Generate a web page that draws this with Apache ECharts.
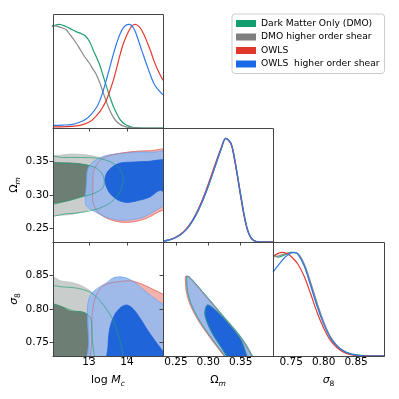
<!DOCTYPE html>
<html>
<head>
<meta charset="utf-8">
<script src="https://cdn.jsdelivr.net/npm/echarts@6/dist/echarts.min.js"></script>
<style>
  html, body { margin: 0; padding: 0; background: #fff; }
  #main { width: 399px; height: 399px; }
</style>
</head>
<body>
<div id="main"></div>
<script>
// series names (legend)
const names = ["Dark Matter Only (DMO)", "DMO higher order shear", "OWLS", "OWLS  higher order shear"];

// tick labels
const logMcTicks = [13, 14];
const omTicks = [0.25, 0.30, 0.35];
const s8Ticks = [0.75, 0.80, 0.85];

// 1D marginal: log Mc
const mcPdfDmo = [[12.02,0.977],[12.1,0.99],[12.21,1.0],[12.39,0.98],[12.55,0.95],[12.66,0.93],[12.8,0.91],[12.9,0.89],[13.02,0.83],[13.1,0.76],[13.2,0.68],[13.29,0.6],[13.375,0.5],[13.46,0.4],[13.55,0.3],[13.64,0.21],[13.73,0.14],[13.82,0.08],[13.91,0.045],[14.0,0.026],[14.09,0.012],[14.2,0.004],[14.4,0],[14.95,0]];
const mcPdfDmoHos = [[12.02,0.99],[12.17,0.98],[12.3,0.965],[12.39,0.95],[12.5,0.9],[12.66,0.82],[12.78,0.75],[12.88,0.69],[12.95,0.655],[13.02,0.62],[13.1,0.57],[13.2,0.51],[13.29,0.43],[13.375,0.34],[13.46,0.25],[13.55,0.17],[13.64,0.105],[13.73,0.06],[13.82,0.035],[13.91,0.018],[14.0,0.008],[14.1,0.003],[14.3,0],[14.95,0]];
const mcPdfOwls = [[12.05,0.01],[12.4,0.013],[12.66,0.02],[12.85,0.035],[13.02,0.06],[13.15,0.1],[13.29,0.16],[13.375,0.21],[13.46,0.27],[13.55,0.36],[13.64,0.46],[13.73,0.58],[13.82,0.71],[13.91,0.82],[14.0,0.9],[14.07,0.95],[14.13,0.985],[14.22,1.0],[14.3,0.985],[14.36,0.96],[14.45,0.9],[14.54,0.82],[14.63,0.735],[14.71,0.65],[14.8,0.57],[14.95,0.46]];
const mcPdfOwlsHos = [[12.05,0.026],[12.3,0.028],[12.57,0.035],[12.75,0.055],[12.93,0.09],[13.05,0.13],[13.2,0.2],[13.29,0.27],[13.375,0.36],[13.46,0.47],[13.55,0.59],[13.64,0.71],[13.73,0.82],[13.82,0.91],[13.91,0.97],[14.0,0.997],[14.07,1.0],[14.18,0.96],[14.27,0.88],[14.36,0.78],[14.45,0.685],[14.54,0.59],[14.63,0.5],[14.71,0.43],[14.8,0.38],[14.95,0.32]];

// 1D marginal: Omega_m
const omPdfDmo = [[0.23,0.008],[0.24,0.02],[0.25,0.045],[0.26,0.085],[0.27,0.15],[0.28,0.25],[0.29,0.38],[0.30,0.54],[0.31,0.72],[0.32,0.9],[0.327,1.0],[0.335,0.95],[0.34,0.82],[0.345,0.64],[0.35,0.45],[0.355,0.27],[0.36,0.13],[0.365,0.05],[0.37,0.015],[0.375,0.004],[0.38,0],[0.40,0]];
const omPdfDmoHos = [[0.23,0.008],[0.24,0.02],[0.25,0.044],[0.26,0.084],[0.27,0.148],[0.28,0.248],[0.29,0.378],[0.30,0.538],[0.31,0.718],[0.32,0.9],[0.327,1.0],[0.335,0.955],[0.34,0.83],[0.345,0.65],[0.35,0.46],[0.355,0.28],[0.36,0.135],[0.365,0.052],[0.37,0.016],[0.375,0.004],[0.38,0],[0.40,0]];
const omPdfOwls = [[0.23,0.009],[0.24,0.022],[0.25,0.048],[0.26,0.09],[0.27,0.158],[0.28,0.26],[0.29,0.395],[0.30,0.56],[0.31,0.74],[0.32,0.91],[0.327,1.0],[0.335,0.945],[0.34,0.81],[0.345,0.63],[0.35,0.44],[0.355,0.26],[0.36,0.125],[0.365,0.048],[0.37,0.014],[0.375,0.004],[0.38,0],[0.40,0]];
const omPdfOwlsHos = [[0.23,0.008],[0.24,0.02],[0.25,0.045],[0.26,0.086],[0.27,0.152],[0.28,0.252],[0.29,0.382],[0.30,0.542],[0.31,0.722],[0.32,0.9],[0.327,1.0],[0.335,0.952],[0.34,0.825],[0.345,0.645],[0.35,0.455],[0.355,0.275],[0.36,0.132],[0.365,0.05],[0.37,0.015],[0.375,0.004],[0.38,0],[0.40,0]];

// 1D marginal: sigma_8
const s8PdfDmo = [[0.722,0.98],[0.73,0.955],[0.74,0.975],[0.75,1.0],[0.76,0.985],[0.77,0.875],[0.78,0.69],[0.79,0.49],[0.80,0.32],[0.81,0.185],[0.82,0.10],[0.83,0.052],[0.84,0.025],[0.85,0.01],[0.86,0.003],[0.87,0],[0.893,0]];
const s8PdfDmoHos = [[0.722,0.955],[0.73,0.965],[0.74,0.985],[0.75,1.0],[0.76,0.99],[0.77,0.89],[0.78,0.71],[0.79,0.51],[0.80,0.33],[0.81,0.19],[0.82,0.105],[0.83,0.05],[0.84,0.02],[0.85,0.007],[0.86,0.002],[0.87,0],[0.893,0]];
const s8PdfOwls = [[0.722,0.96],[0.73,0.99],[0.737,1.0],[0.745,0.985],[0.75,0.96],[0.76,0.89],[0.77,0.77],[0.78,0.60],[0.79,0.42],[0.80,0.27],[0.81,0.155],[0.82,0.085],[0.83,0.04],[0.84,0.016],[0.85,0.005],[0.86,0.001],[0.87,0],[0.893,0]];
const s8PdfOwlsHos = [[0.722,0.81],[0.73,0.875],[0.74,0.95],[0.75,0.995],[0.755,1.0],[0.76,0.985],[0.77,0.87],[0.78,0.68],[0.79,0.48],[0.80,0.31],[0.81,0.18],[0.82,0.10],[0.83,0.05],[0.84,0.022],[0.85,0.008],[0.86,0.002],[0.87,0],[0.893,0]];

// 2D contours: log Mc vs Omega_m (95% outer, 68% inner)
const mcOmDmoOuter = [[11.9,0.356],[12.3,0.356],[12.8,0.356],[13.2,0.355],[13.55,0.35],[13.8,0.34],[13.9,0.325],[13.82,0.305],[13.6,0.29],[13.3,0.281],[12.9,0.275],[12.4,0.272],[11.9,0.271]];
const mcOmDmoInner = [[11.9,0.345],[12.4,0.347],[12.9,0.345],[13.2,0.34],[13.38,0.328],[13.38,0.312],[13.15,0.303],[12.8,0.297],[12.4,0.291],[11.9,0.288]];
const mcOmHosOuter = [[11.9,0.357],[12.2,0.359],[12.5,0.361],[12.9,0.360],[13.2,0.357],[13.5,0.353],[13.75,0.345],[13.85,0.333],[13.8,0.315],[13.5,0.295],[13.2,0.283],[12.9,0.276],[12.5,0.271],[12.2,0.270],[11.9,0.270]];
const mcOmHosInner = [[11.9,0.346],[12.3,0.348],[12.7,0.347],[13.0,0.344],[13.2,0.338],[13.3,0.325],[13.25,0.31],[13.0,0.302],[12.7,0.296],[12.4,0.291],[12.1,0.288],[11.9,0.288]];
const mcOmOwlsOuter = [[13.12,0.335],[13.1,0.31],[13.1,0.29],[13.2,0.277],[13.45,0.266],[13.8,0.26],[14.15,0.26],[14.5,0.265],[14.8,0.274],[15.1,0.284],[15.1,0.366],[14.6,0.366],[14.2,0.365],[13.8,0.362],[13.45,0.357],[13.25,0.349]];
const mcOmOwlsInner = [[13.5,0.322],[13.56,0.335],[13.75,0.344],[14.05,0.349],[14.5,0.35],[15.1,0.35],[15.1,0.297],[14.6,0.293],[14.3,0.29],[14.05,0.288],[13.8,0.292],[13.58,0.305]];
const mcOmOwlsHosOuter = [[12.95,0.335],[12.93,0.315],[12.9,0.295],[12.93,0.284],[13.1,0.277],[13.4,0.268],[13.73,0.263],[14.1,0.263],[14.43,0.267],[14.7,0.275],[14.87,0.281],[15.1,0.29],[15.1,0.364],[14.7,0.364],[14.2,0.364],[13.8,0.362],[13.45,0.359],[13.2,0.353],[13.02,0.345]];
const mcOmOwlsHosInner = [[13.42,0.322],[13.48,0.334],[13.64,0.343],[13.85,0.348],[14.1,0.349],[14.5,0.35],[15.1,0.35],[15.1,0.302],[14.87,0.307],[14.6,0.297],[14.3,0.292],[14.0,0.289],[13.75,0.293],[13.52,0.305]];

// 2D contours: log Mc vs sigma_8
const mcS8DmoOuter = [[11.9,0.833],[12.3,0.833],[12.7,0.831],[13.0,0.826],[13.2,0.818],[13.42,0.803],[13.62,0.785],[13.78,0.76],[13.87,0.74],[13.9,0.725],[13.9,0.70],[11.9,0.70]];
const mcS8DmoInner = [[11.9,0.807],[12.3,0.803],[12.6,0.797],[12.9,0.794],[13.05,0.785],[13.08,0.76],[13.08,0.70],[11.9,0.70]];
const mcS8HosOuter = [[11.9,0.848],[12.05,0.848],[12.25,0.842],[12.5,0.840],[12.75,0.836],[12.95,0.830],[13.1,0.824],[13.25,0.812],[13.35,0.795],[13.4,0.77],[13.42,0.74],[13.42,0.70],[11.9,0.70]];
const mcS8HosInner = [[11.9,0.808],[12.1,0.807],[12.3,0.803],[12.5,0.797],[12.8,0.796],[12.95,0.792],[13.0,0.78],[13.0,0.75],[13.0,0.70],[11.9,0.70]];
const mcS8OwlsOuter = [[13.08,0.70],[13.07,0.75],[13.08,0.79],[13.15,0.815],[13.3,0.831],[13.5,0.838],[13.8,0.841],[14.1,0.842],[14.4,0.837],[14.7,0.829],[14.95,0.822],[15.1,0.817],[15.1,0.70]];
const mcS8OwlsInner = [[13.56,0.70],[13.56,0.75],[13.65,0.78],[13.8,0.796],[14.0,0.804],[14.2,0.802],[14.5,0.79],[14.8,0.777],[15.1,0.765],[15.1,0.70]];
const mcS8OwlsHosOuter = [[12.98,0.70],[12.99,0.75],[12.96,0.785],[12.97,0.808],[13.05,0.822],[13.25,0.832],[13.46,0.839],[13.62,0.846],[13.8,0.848],[14.0,0.846],[14.2,0.840],[14.45,0.828],[14.7,0.817],[14.9,0.809],[15.1,0.802],[15.1,0.70]];
const mcS8OwlsHosInner = [[13.5,0.70],[13.5,0.745],[13.55,0.772],[13.68,0.792],[13.85,0.803],[14.0,0.806],[14.15,0.801],[14.35,0.786],[14.55,0.768],[14.75,0.752],[14.95,0.737],[15.1,0.728],[15.1,0.70]];

// 2D contours: Omega_m vs sigma_8
const omS8DmoOuter = [[0.2672,0.8485],[0.2712,0.8475],[0.2827,0.8355],[0.2987,0.8175],[0.3137,0.8005],[0.3287,0.7835],[0.3447,0.7655],[0.3567,0.7495],[0.3687,0.7295],[0.3747,0.72],[0.3347,0.72],[0.3265,0.7295],[0.3137,0.7455],[0.3007,0.7625],[0.2879,0.7805],[0.2787,0.7965],[0.2724,0.8105],[0.2682,0.8255],[0.2669,0.8405]];
const omS8DmoInner = [[0.2992,0.8055],[0.3032,0.8045],[0.3157,0.7945],[0.3291,0.7805],[0.3407,0.7675],[0.3497,0.7555],[0.3567,0.7395],[0.3607,0.72],[0.3357,0.72],[0.3291,0.7295],[0.3187,0.7455],[0.3085,0.7605],[0.3007,0.7755],[0.2956,0.7905],[0.2962,0.8005]];
const omS8HosOuter = [[0.2675,0.848],[0.2715,0.847],[0.283,0.835],[0.299,0.817],[0.314,0.800],[0.329,0.783],[0.345,0.765],[0.357,0.749],[0.369,0.729],[0.375,0.72],[0.335,0.72],[0.3268,0.729],[0.314,0.745],[0.301,0.762],[0.2882,0.780],[0.279,0.796],[0.2727,0.810],[0.2685,0.825],[0.2672,0.840]];
const omS8HosInner = [[0.2995,0.805],[0.3035,0.804],[0.316,0.794],[0.3294,0.780],[0.341,0.767],[0.350,0.755],[0.357,0.739],[0.361,0.72],[0.336,0.72],[0.3294,0.729],[0.319,0.745],[0.3088,0.760],[0.301,0.775],[0.2959,0.790],[0.2965,0.800]];
const omS8OwlsOuter = [[0.265,0.849],[0.269,0.848],[0.2805,0.836],[0.2965,0.818],[0.3115,0.801],[0.3265,0.784],[0.3425,0.766],[0.3545,0.75],[0.3665,0.73],[0.3725,0.72],[0.3325,0.72],[0.3243,0.73],[0.3115,0.746],[0.2985,0.763],[0.2857,0.781],[0.2765,0.797],[0.2702,0.811],[0.266,0.826],[0.2647,0.841]];
const omS8OwlsInner = [[0.297,0.806],[0.301,0.805],[0.3135,0.795],[0.3269,0.781],[0.3385,0.768],[0.3475,0.756],[0.3545,0.74],[0.3585,0.72],[0.3335,0.72],[0.3269,0.73],[0.3165,0.746],[0.3063,0.761],[0.2985,0.776],[0.2934,0.791],[0.294,0.801]];
const omS8OwlsHosOuter = [[0.2665,0.849],[0.2705,0.848],[0.282,0.836],[0.298,0.818],[0.313,0.801],[0.328,0.784],[0.344,0.766],[0.356,0.75],[0.368,0.73],[0.374,0.72],[0.334,0.72],[0.3258,0.73],[0.313,0.746],[0.300,0.763],[0.2872,0.781],[0.278,0.797],[0.2717,0.811],[0.2675,0.826],[0.2662,0.841]];
const omS8OwlsHosInner = [[0.2985,0.806],[0.3025,0.805],[0.315,0.795],[0.3284,0.781],[0.340,0.768],[0.349,0.756],[0.356,0.74],[0.36,0.72],[0.335,0.72],[0.3284,0.73],[0.318,0.746],[0.3078,0.761],[0.300,0.776],[0.2949,0.791],[0.2955,0.801]];

const FONT = "DejaVu Sans";
const colors = ["#139e6e", "#7f7f7f", "#e2382c", "#1a6ae6"];
const lineColors = ["#1f9f70", "#8a8a8a", "#e5392f", "#2f7ae8"];

// panel layout
const panels = [
  { left: 53, top: 14, width: 110, height: 114 },
  { left: 53, top: 128, width: 110, height: 114 },
  { left: 163, top: 128, width: 110, height: 114 },
  { left: 53, top: 242, width: 110, height: 114 },
  { left: 163, top: 242, width: 110, height: 114 },
  { left: 273, top: 242, width: 111, height: 114 }
];

const rich = {
  n: { fontFamily: FONT, fontSize: 11, color: "#000", lineHeight: 14, verticalAlign: "top" },
  i: { fontFamily: FONT, fontSize: 11, fontStyle: "italic", color: "#000", lineHeight: 14, verticalAlign: "top" },
  s: { fontFamily: FONT, fontSize: 7.5, fontStyle: "italic", color: "#000", lineHeight: 14, verticalAlign: "top", padding: [5, 0, 0, 0] },
  u: { fontFamily: FONT, fontSize: 7.5, color: "#000", lineHeight: 14, verticalAlign: "top", padding: [5, 0, 0, 0] }
};

function axis(gi, min, max, ticks, showLabels, name, nameGap, labelMargin) {
  return {
    type: "value", gridIndex: gi, min: min, max: max, z: 10,
    axisLine: { show: true, onZero: false, lineStyle: { color: "#444", width: 1 } },
    axisTick: { show: true, customValues: ticks, length: 3.5, lineStyle: { color: "#444" } },
    axisLabel: {
      show: showLabels, customValues: ticks, fontFamily: FONT, fontSize: 10.5, color: "#000",
      margin: labelMargin == null ? 4 : labelMargin,
      formatter: v => (Number.isInteger(v) ? String(v) : v.toFixed(2))
    },
    splitLine: { show: false },
    name: name || "", nameLocation: "middle", nameGap: nameGap || 0,
    nameTextStyle: { rich: rich }
  };
}
function pdfAxis(gi) {
  return { type: "value", gridIndex: gi, min: 0, max: 1.1, show: false };
}

function pdf(k, data, xi) {
  return {
    type: "line", name: names[k], xAxisIndex: xi, yAxisIndex: xi, data: data,
    smooth: 0.35, showSymbol: false, symbol: "none", clip: true, silent: true, z: 3,
    itemStyle: { color: colors[k] },
    lineStyle: { color: lineColors[k], width: 1.2 }
  };
}

function contour(k, pts, gi, style, z) {
  return {
    type: "custom", name: names[k], xAxisIndex: gi, yAxisIndex: gi, z: z,
    silent: true, clip: true, data: pts,
    itemStyle: { color: colors[k] },
    renderItem: function (params, api) {
      if (params.dataIndex !== 0) return null;
      return {
        type: "polygon",
        shape: { points: pts.map(p => api.coord(p)), smooth: 0.3 },
        style: style
      };
    }
  };
}

const grayOut = { fill: "#c9cdcb", stroke: "#b9bebb", lineWidth: 0.8 };
const grayIn = { fill: "#6d7f75", stroke: "#66776d", lineWidth: 0.8 };
const redOut = { fill: "#f3b3ac", stroke: "#ec9a92", lineWidth: 0.8 };
const redIn = { fill: "#eda9a2", stroke: "#eda9a2", lineWidth: 0.8 };
const blueOut = { fill: "rgba(150,185,240,0.9)", stroke: "rgba(110,160,235,0.9)", lineWidth: 0.8 };
const blueIn = { fill: "rgba(24,96,216,0.95)", stroke: "rgba(24,96,216,0.95)", lineWidth: 0.8 };
const redLine = { fill: "none", stroke: "rgba(220,70,60,0.4)", lineWidth: 1 };
const greenLine = { fill: "none", stroke: "rgba(30,160,112,0.65)", lineWidth: 1 };

const sets = [
  { gi: 1, dmo: [mcOmDmoOuter, mcOmDmoInner], hos: [mcOmHosOuter, mcOmHosInner], owls: [mcOmOwlsOuter, mcOmOwlsInner], owlsHos: [mcOmOwlsHosOuter, mcOmOwlsHosInner] },
  { gi: 3, dmo: [mcS8DmoOuter, mcS8DmoInner], hos: [mcS8HosOuter, mcS8HosInner], owls: [mcS8OwlsOuter, mcS8OwlsInner], owlsHos: [mcS8OwlsHosOuter, mcS8OwlsHosInner] },
  { gi: 4, dmo: [omS8DmoOuter, omS8DmoInner], hos: [omS8HosOuter, omS8HosInner], owls: [omS8OwlsOuter, omS8OwlsInner], owlsHos: [omS8OwlsHosOuter, omS8OwlsHosInner] }
];

const series = [
  pdf(0, mcPdfDmo, 0), pdf(1, mcPdfDmoHos, 0), pdf(2, mcPdfOwls, 0), pdf(3, mcPdfOwlsHos, 0),
  pdf(0, omPdfDmo, 2), pdf(1, omPdfDmoHos, 2), pdf(2, omPdfOwls, 2), pdf(3, omPdfOwlsHos, 2),
  pdf(0, s8PdfDmo, 5), pdf(1, s8PdfDmoHos, 5), pdf(2, s8PdfOwls, 5), pdf(3, s8PdfOwlsHos, 5)
];
sets.forEach(s => {
  series.push(contour(1, s.hos[0], s.gi, grayOut, 2));
  series.push(contour(1, s.hos[1], s.gi, grayIn, 2.1));
  series.push(contour(2, s.owls[0], s.gi, redOut, 3));
  series.push(contour(2, s.owls[1], s.gi, redIn, 3.1));
  series.push(contour(3, s.owlsHos[0], s.gi, blueOut, 4));
  series.push(contour(3, s.owlsHos[1], s.gi, blueIn, 4.1));
  series.push(contour(2, s.owls[0], s.gi, redLine, 5));
  series.push(contour(0, s.dmo[0], s.gi, greenLine, 6));
  series.push(contour(0, s.dmo[1], s.gi, greenLine, 6));
});

const chart = echarts.init(document.getElementById("main"), null, { renderer: "canvas" });
chart.setOption({
  animation: false,
  backgroundColor: "#fff",
  grid: panels.map(p => Object.assign({ show: false }, p)),
  xAxis: [
    axis(0, 12.05, 14.95, logMcTicks, false),
    axis(1, 12.05, 14.95, logMcTicks, false),
    axis(2, 0.23, 0.40, omTicks, false),
    axis(3, 12.05, 14.95, logMcTicks, true, "{n|log }{i|M}{s|c}", 19, 1),
    axis(4, 0.23, 0.40, omTicks, true, "{n|Ω}{s|m}", 19, 1),
    axis(5, 0.722, 0.893, s8Ticks, true, "{i|σ}{u|8}", 19, 1)
  ],
  yAxis: [
    pdfAxis(0),
    axis(1, 0.23, 0.40, omTicks, true, "{n|Ω}{s|m}", 27),
    pdfAxis(2),
    axis(3, 0.73, 0.90, s8Ticks, true, "{i|σ}{u|8}", 27),
    axis(4, 0.73, 0.90, s8Ticks, false),
    pdfAxis(5)
  ],
  legend: {
    orient: "vertical", left: 232, top: 14, icon: "rect",
    itemWidth: 20, itemHeight: 7, itemGap: 2.5,
    padding: [4, 5, 4, 4],
    borderColor: "#cccccc", borderWidth: 1, borderRadius: 3, backgroundColor: "#fff",
    textStyle: { fontFamily: FONT, fontSize: 9.2, color: "#000", lineHeight: 11 },
    selectedMode: false,
    data: names.map((n, k) => ({ name: n, itemStyle: { color: colors[k] } }))
  },
  graphic: panels.map(p => ({
    type: "rect", z: 100, silent: true,
    shape: { x: p.left + 0.5, y: p.top + 0.5, width: p.width, height: p.height },
    style: { fill: "none", stroke: "#444", lineWidth: 1 }
  })),
  series: series
});
</script>
</body>
</html>
